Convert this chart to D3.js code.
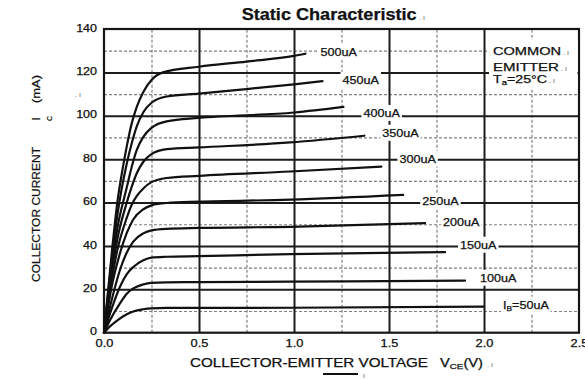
<!DOCTYPE html>
<html>
<head>
<meta charset="utf-8">
<script src="https://cdn.jsdelivr.net/npm/d3@7/dist/d3.min.js"></script>
<style>
  html, body { margin: 0; padding: 0; background: #fff; }
  svg { display: block; }
  text { font-family: "Liberation Sans", Arial, sans-serif; fill: #111; stroke: #111; stroke-width: 0.25px; }
</style>
</head>
<body>
<svg id="chart" width="585" height="379"></svg>
<script>
// Output characteristic: collector current I_C (mA) vs V_CE (V), one curve per base current.
const ib50  = [[0,0],[0.03,2.8],[0.067,5.5],[0.12,8.5],[0.154,9.8],[0.207,10.8],[0.25,11.2],[0.33,11.4],[0.5,11.4],[0.98,11.5],[2.0,12.0]];
const ib100 = [[0,0],[0.03,5.5],[0.084,13.5],[0.12,18],[0.154,20.4],[0.207,22.3],[0.25,23.0],[0.33,23.2],[0.5,23.3],[0.98,23.5],[1.9,24.0]];
const ib150 = [[0,0],[0.04,11],[0.084,21.2],[0.12,27],[0.154,30.3],[0.207,33.4],[0.25,34.6],[0.33,35.0],[0.5,35.3],[0.98,36.2],[1.795,37.1]];
const ib200 = [[0,0],[0.04,15],[0.084,28.9],[0.12,37],[0.154,42],[0.207,45.8],[0.25,47.2],[0.33,47.9],[0.5,48.3],[0.98,48.8],[1.69,50.5]];
const ib250 = [[0,0],[0.04,21],[0.084,36.6],[0.12,46],[0.154,52.2],[0.207,56.9],[0.25,58.7],[0.33,59.8],[0.5,60.4],[0.98,61.3],[1.575,63.5]];
const ib300 = [[0,0],[0.04,24],[0.07,38],[0.12,53],[0.146,59],[0.172,63],[0.207,66.5],[0.25,69.4],[0.33,71.3],[0.5,72.3],[0.98,74.3],[1.46,76.6]];
const ib350 = [[0,0],[0.04,27],[0.07,43],[0.12,60],[0.146,67.3],[0.172,73.4],[0.207,78.8],[0.25,82.3],[0.33,84.6],[0.5,85.4],[0.98,87.7],[1.37,90.8]];
const ib400 = [[0,0],[0.04,30],[0.07,48],[0.12,67],[0.146,76.5],[0.172,84.2],[0.207,90.3],[0.25,94.4],[0.33,97.4],[0.5,99.0],[1.0,101.5],[1.26,104.1]];
const ib450 = [[0,0],[0.04,33],[0.07,54],[0.12,78],[0.146,87.3],[0.172,95],[0.207,101.6],[0.25,106],[0.33,108.9],[0.5,110.2],[0.75,112.3],[1.0,114.5],[1.15,116.0]];
const ib500 = [[0,0],[0.04,36],[0.07,60],[0.093,73],[0.12,86],[0.146,96.5],[0.172,104],[0.207,111],[0.25,116.5],[0.31,120],[0.5,122.6],[0.75,125.0],[1.0,127.6],[1.06,128.6]];

const curves      = [ib50, ib100, ib150, ib200, ib250, ib300, ib350, ib400, ib450, ib500];
const curveLabels = ["=50uA", "100uA", "150uA", "200uA", "250uA", "300uA", "350uA", "400uA", "450uA", "500uA"];

const xMajor      = [0, 0.5, 1.0, 1.5, 2.0, 2.5];
const xTickLabels = ["0.0", "0.5", "1.0", "1.5", "2.0", "2.5"];
const xMinor      = [0.25, 0.75, 1.25, 1.75, 2.25];
const yMajor      = [0, 20, 40, 60, 80, 100, 120, 140];
const yMinor      = [10, 30, 50, 70, 90, 110, 130];

// Label placement next to each curve end: [dx, dy] in px
const labelNudge = [[19,-1.7],[15,-2.7],[15,-7.3],[18,-1.3],[19,6],[18,-7.7],[18,-2.7],[20,6.3],[20,-1],[15,-1.6]];

const svg = d3.select("#chart");
const x = d3.scaleLinear().domain([0, 2.5]).range([104, 579]);
const y = d3.scaleLinear().domain([0, 140]).range([332.7, 29]);
const [x0, x1] = x.range();
const [y0, y1] = y.range();

// widen text horizontally by a factor
function stretch(sel, k) {
  sel.each(function () {
    const w = this.getComputedTextLength();
    d3.select(this).attr("textLength", w * k).attr("lengthAdjust", "spacingAndGlyphs");
  });
  return sel;
}
function fit(sel, w) {
  return sel.attr("textLength", w).attr("lengthAdjust", "spacingAndGlyphs");
}
function mark(parent, xp, yp, size) {
  parent.append("text").attr("x", xp).attr("y", yp)
    .style("font-size", (size || 7) + "px").style("fill", "#555").style("stroke", "none").text(". \u0131");
}

// layer order: grid, label backgrounds, frame, curves, text, note
const gridG  = svg.append("g").attr("class", "grid");
const boxG   = svg.append("g").attr("class", "label-bg");
const frameG = svg.append("g").attr("class", "frame");
const curveG = svg.append("g").attr("class", "curves");
const textG  = svg.append("g").attr("class", "texts");

// minor (dotted) grid
const minorG = gridG.append("g");
minorG.append("g").attr("transform", `translate(0,${y0})`)
  .call(d3.axisBottom(x).tickValues(xMinor).tickSize(y1 - y0).tickFormat(""));
minorG.append("g").attr("transform", `translate(${x0},0)`)
  .call(d3.axisLeft(y).tickValues(yMinor).tickSize(x0 - x1).tickFormat(""));
minorG.selectAll(".domain").remove();
minorG.selectAll("text").remove();
minorG.selectAll("line").attr("stroke", "#808080").attr("stroke-width", 1.2).attr("stroke-dasharray", "3,2");

// major (solid) grid
const majorG = gridG.append("g");
majorG.append("g").attr("transform", `translate(0,${y0})`)
  .call(d3.axisBottom(x).tickValues(xMajor.slice(1, -1)).tickSize(y1 - y0).tickFormat(""));
majorG.append("g").attr("transform", `translate(${x0},0)`)
  .call(d3.axisLeft(y).tickValues(yMajor.slice(1, -1)).tickSize(x0 - x1).tickFormat(""));
majorG.selectAll(".domain").remove();
majorG.selectAll("text").remove();
majorG.selectAll("line").attr("stroke", "#1c1c1c").attr("stroke-width", 2);

frameG.append("rect").attr("x", x0).attr("y", y1).attr("width", x1 - x0).attr("height", y0 - y1)
  .attr("fill", "none").attr("stroke", "#151515").attr("stroke-width", 2.2);

// tick labels
const xAx = textG.append("g").attr("transform", `translate(0,${y0})`)
  .call(d3.axisBottom(x).tickValues(xMajor).tickSize(0).tickPadding(7)
    .tickFormat((d, i) => xTickLabels[i]));
xAx.select(".domain").remove();
xAx.selectAll("line").remove();
xAx.selectAll("text").style("font-size", "10px").style("font-family", null).attr("fill", "#111");
stretch(xAx.selectAll("text"), 1.28);

const yAx = textG.append("g").attr("transform", `translate(${x0},0)`)
  .call(d3.axisLeft(y).tickValues(yMajor).tickSize(0).tickPadding(7));
yAx.select(".domain").remove();
yAx.selectAll("line").remove();
yAx.selectAll("text").style("font-size", "10px").style("font-family", null).attr("fill", "#111").attr("dy", "0.22em");
stretch(yAx.selectAll("text"), 1.25);
mark(textG, 75, y(110) + 2.5, 7);

// curves
const line = d3.line().x(d => x(d[0])).y(d => y(d[1])).curve(d3.curveMonotoneX);
curveG.selectAll("path").data(curves).join("path")
  .attr("d", line).attr("fill", "none").attr("stroke", "#111")
  .attr("stroke-width", 2.2).attr("stroke-linejoin", "round").attr("stroke-linecap", "round");

// curve labels with white backgrounds
curves.forEach((c, i) => {
  const end = c[c.length - 1];
  const t = textG.append("text")
    .attr("x", x(end[0]) + labelNudge[i][0])
    .attr("y", y(end[1]) + labelNudge[i][1])
    .attr("dy", "0.36em")
    .style("font-size", "10.5px");
  if (i === 0) {
    t.append("tspan").text("I");
    t.append("tspan").attr("baseline-shift", "-25%").style("font-size", "7px").text("B");
    t.append("tspan").text(curveLabels[i]);
  } else {
    t.text(curveLabels[i]);
  }
  stretch(t, 1.2);
  const b = t.node().getBBox();
  boxG.append("rect").attr("x", b.x - 2).attr("y", b.y - 2).attr("width", b.width + 4).attr("height", b.height + 4)
    .attr("fill", "#fff");
});

// title
const title = textG.append("text").attr("x", 241.7).attr("y", 19.5)
  .style("font-size", "16px").style("font-weight", "bold").text("Static Characteristic");
fit(title, 175);
mark(textG, 419, 19.5);

// x-axis title
const xt = textG.append("text").attr("x", 190).attr("y", 367).style("font-size", "12px").text("COLLECTOR-EMITTER VOLTAGE");
fit(xt, 238);
const vt = textG.append("text").attr("x", 440).attr("y", 367).style("font-size", "12px");
vt.append("tspan").text("V");
vt.append("tspan").attr("baseline-shift", "-25%").style("font-size", "8px").text("CE");
vt.append("tspan").text("(V)");
fit(vt, 43);
mark(textG, 487, 367);
textG.append("line").attr("x1", 323).attr("x2", 358).attr("y1", 374).attr("y2", 374)
  .attr("stroke", "#111").attr("stroke-width", 2);
textG.append("text").attr("x", 363).attr("y", 378).style("font-size", "7px").style("fill", "#555").style("stroke", "none").text("\u0131");

// y-axis title (rotated)
const yt = textG.append("text").attr("transform", "translate(40,214.5) rotate(-90)")
  .attr("text-anchor", "middle").style("font-size", "11.5px").text("COLLECTOR CURRENT");
fit(yt, 135);
textG.append("text").attr("transform", "translate(40,119) rotate(-90)")
  .attr("text-anchor", "middle").style("font-size", "11.5px").text("I");
textG.append("text").attr("transform", "translate(51.5,118.5) rotate(-90)")
  .attr("text-anchor", "middle").style("font-size", "7px").text("C");
const ma = textG.append("text").attr("transform", "translate(40,89) rotate(-90)")
  .attr("text-anchor", "middle").style("font-size", "11.5px").text("(mA)");
fit(ma, 28);

// operating conditions note, on its own white panel above everything
const noteG = svg.append("g").attr("class", "note");
noteG.append("rect").attr("x", 489).attr("y", 40).attr("width", 88.5).attr("height", 48).attr("fill", "#ffffff");
const n1 = noteG.append("text").attr("x", 493).attr("y", 55).style("font-size", "10.5px").text("COMMON");
fit(n1, 68);
const n2 = noteG.append("text").attr("x", 493).attr("y", 70.5).style("font-size", "10.5px").text("EMITTER");
fit(n2, 66);
const n3 = noteG.append("text").attr("x", 493).attr("y", 83).style("font-size", "10.5px");
n3.append("tspan").text("T");
n3.append("tspan").attr("baseline-shift", "-25%").style("font-size", "7px").text("a");
n3.append("tspan").text("=25\u00b0C");
fit(n3, 54);
mark(noteG, 563, 55); mark(noteG, 561, 70.5); mark(noteG, 549, 83);
</script>
</body>
</html>
